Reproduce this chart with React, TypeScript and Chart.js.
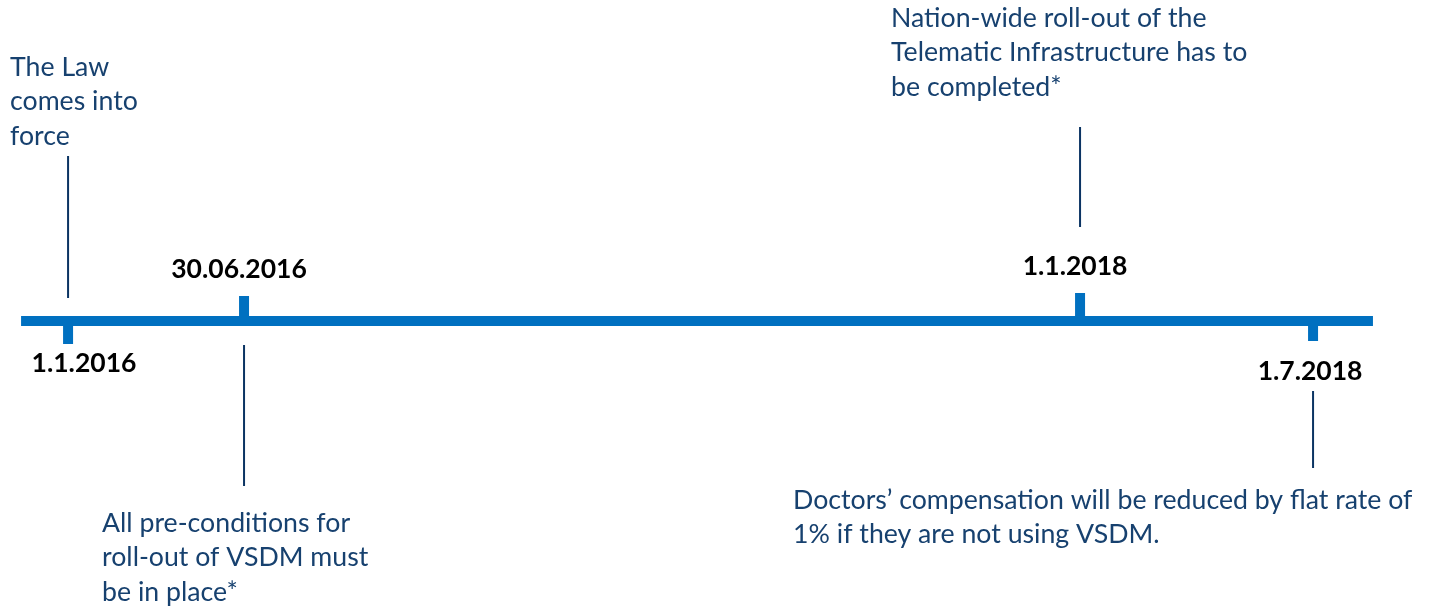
import React, { useEffect, useRef } from "react";
import { Chart, registerables } from "chart.js";

Chart.register(...registerables);

// Timeline span (position along the timeline, % of width)
const timelineStart = 1.47;
const timelineEnd = 95.81;

// Milestones
const events = ["1.1.2016", "30.06.2016", "1.1.2018", "1.7.2018"];
const eventPos = [4.75, 17.03, 75.37, 91.63];
const tickEnd = [-23, 25, 28, -20]; // tick extent (+ above, - below the line)
const labelPos = [5.86, 16.68, 75.02, 91.42];
const labelOffset = [-42, 52, 55, -50];

// Connector lines from milestone to its description
const connectorFrom = [165, -24, 194, -70];
const connectorTo = [23, -165, 94, -147];

// Descriptions
const notes = [
  ["The Law", "comes into", "force"],
  ["All pre-conditions for", "roll-out of VSDM must", "be in place*"],
  ["Nation-wide roll-out of the", "Telematic Infrastructure has to", "be completed*"],
  ["Doctors\u2019 compensation will be reduced by flat rate of", "1% if they are not using VSDM."],
];
const notePos = [0.7, 7.12, 62.18, 55.34];
const noteOffset = [254, -202, 303, -179];

const MAIN_BLUE = "#0070C0";
const NAVY = "#0B3463";
const TEXT_BLUE = "#17416F";

export default function App() {
  const ref = useRef<HTMLCanvasElement | null>(null);

  useEffect(() => {
    if (!ref.current) return;
    const datasets: any[] = [];
    datasets.push({
      data: [
        { x: timelineStart, y: 0 },
        { x: timelineEnd, y: 0 },
      ],
      borderColor: MAIN_BLUE,
      borderWidth: 10,
      borderCapStyle: "butt",
      pointRadius: 0,
    });
    events.forEach((_, i) => {
      datasets.push({
        data: [
          { x: eventPos[i], y: 0 },
          { x: eventPos[i], y: tickEnd[i] },
        ],
        borderColor: MAIN_BLUE,
        borderWidth: 10,
        borderCapStyle: "butt",
        pointRadius: 0,
      });
      datasets.push({
        data: [
          { x: eventPos[i], y: connectorFrom[i] },
          { x: eventPos[i], y: connectorTo[i] },
        ],
        borderColor: NAVY,
        borderWidth: 2,
        borderCapStyle: "butt",
        pointRadius: 0,
      });
    });

    const textPlugin = {
      id: "timelineText",
      afterDatasetsDraw(chart: any) {
        const { ctx, scales } = chart;
        const xs = scales.x;
        const ys = scales.y;
        ctx.save();
        ctx.textBaseline = "middle";
        // dates
        ctx.fillStyle = "#000000";
        ctx.font = "bold 26.5px Lato";
        ctx.textAlign = "center";
        events.forEach((t, i) => {
          ctx.fillText(t, xs.getPixelForValue(labelPos[i]), ys.getPixelForValue(labelOffset[i]));
        });
        // notes
        ctx.fillStyle = TEXT_BLUE;
        ctx.font = "26.7px Lato";
        ctx.textAlign = "left";
        const lineH = 34.5;
        notes.forEach((lines, i) => {
          const x = xs.getPixelForValue(notePos[i]);
          const y0 = ys.getPixelForValue(noteOffset[i]);
          lines.forEach((l, j) => ctx.fillText(l, x, y0 + j * lineH));
        });
        ctx.restore();
      },
    };

    const chart = new Chart(ref.current, {
      type: "line",
      data: { datasets },
      options: {
        animation: false,
        responsive: true,
        maintainAspectRatio: false,
        layout: { padding: 0 },
        plugins: { legend: { display: false }, tooltip: { enabled: false } },
        scales: {
          x: { type: "linear", min: 0, max: 100, display: false },
          y: { type: "linear", min: -285, max: 321, display: false },
        },
      },
      plugins: [textPlugin],
    });
    return () => chart.destroy();
  }, []);

  return (
    <div style={{ position: "fixed", left: 0, top: 0, width: 1433, height: 606, background: "#fff" }}>
      <canvas ref={ref} />
    </div>
  );
}
